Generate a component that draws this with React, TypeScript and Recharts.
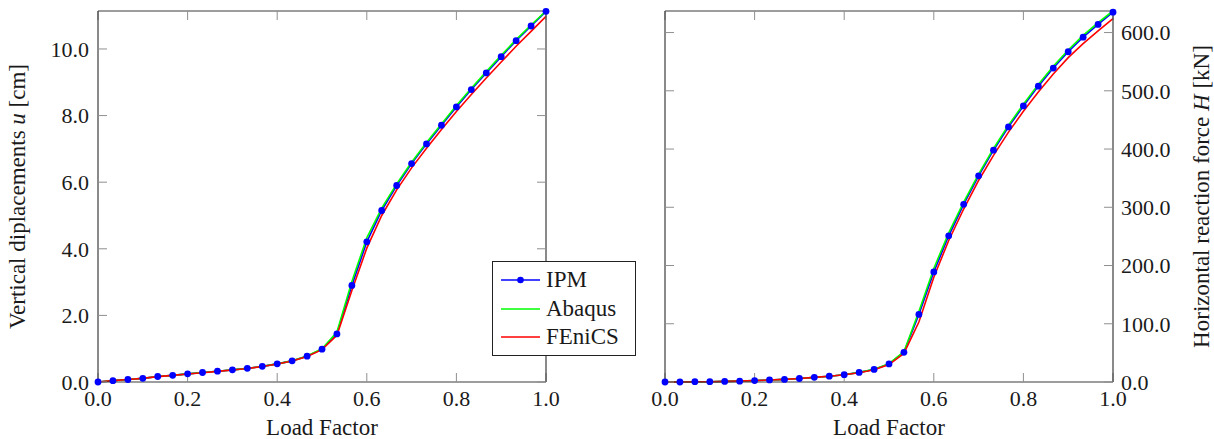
import React from 'react';
import { LineChart, Line, XAxis, YAxis, Legend } from 'recharts';

// ---------- data ----------
const loadFactor = [
  0, 0.0333, 0.0667, 0.1, 0.1333, 0.1667, 0.2, 0.2333, 0.2667, 0.3, 0.3333,
  0.3667, 0.4, 0.4333, 0.4667, 0.5, 0.5333, 0.5667, 0.6, 0.6333, 0.6667,
  0.7, 0.7333, 0.7667, 0.8, 0.8333, 0.8667, 0.9, 0.9333, 0.9667, 1.0,
];

// Vertical displacement u [cm]
const ipmDisp = [
  0, 0.04, 0.075, 0.11, 0.165, 0.2, 0.245, 0.285, 0.325, 0.365, 0.41,
  0.47, 0.545, 0.635, 0.775, 0.985, 1.445, 2.9, 4.21, 5.15, 5.9,
  6.56, 7.15, 7.71, 8.26, 8.78, 9.28, 9.77, 10.25, 10.69, 11.13,
];
const abaqusDisp = [
  0, 0.04, 0.075, 0.11, 0.165, 0.2, 0.245, 0.285, 0.325, 0.365, 0.41,
  0.47, 0.545, 0.635, 0.78, 1.0, 1.5, 3.02, 4.33, 5.22, 5.95,
  6.6, 7.19, 7.75, 8.3, 8.82, 9.32, 9.81, 10.28, 10.72, 11.14,
];
const fenicsDisp = [
  0, 0.04, 0.075, 0.11, 0.16, 0.2, 0.24, 0.28, 0.32, 0.36, 0.405,
  0.465, 0.54, 0.63, 0.765, 0.97, 1.4, 2.75, 4.02, 5.0, 5.77,
  6.43, 7.02, 7.58, 8.12, 8.63, 9.13, 9.61, 10.08, 10.53, 10.98,
];

// Horizontal reaction force H [kN]
const ipmForce = [
  0, 0, 0.5, 0.5, 1, 1.5, 2.5, 3.5, 4.5, 6, 8,
  10, 12.5, 16.5, 21.6, 31, 51, 116, 189, 251, 305,
  354, 398, 438, 474, 508, 539, 567, 592, 614, 635,
];
const abaqusForce = [
  0, 0, 0.5, 0.5, 1, 1.5, 2.5, 3.5, 4.5, 6, 8,
  10, 12.5, 16.5, 22, 31.5, 52, 121, 195, 256, 309,
  357, 401, 441, 477, 511, 542, 570, 595, 617, 637,
];
const fenicsForce = [
  0, 0, 0.5, 0.5, 1, 1.5, 2.5, 3.5, 4.5, 6, 8,
  10, 12.5, 16, 21, 30, 49, 103, 180, 243, 297,
  346, 389, 429, 465, 498, 529, 557, 581, 603, 624,
];

const xTicks = [0, 0.2, 0.4, 0.6, 0.8, 1.0];
const dispTicks = [0, 2, 4, 6, 8, 10];
const forceTicks = [0, 100, 200, 300, 400, 500, 600];
const dispMax = 11.14;
const forceMax = 637;

const seriesInfo = [
  { key: 'ipm', name: 'IPM', color: '#0000ff', marker: true },
  { key: 'abaqus', name: 'Abaqus', color: '#00ff00', marker: false },
  { key: 'fenics', name: 'FEniCS', color: '#ff0000', marker: false },
];

const dispData = loadFactor.map((x, i) => ({
  x,
  ipm: ipmDisp[i],
  abaqus: abaqusDisp[i],
  fenics: fenicsDisp[i],
}));
const forceData = loadFactor.map((x, i) => ({
  x,
  ipm: ipmForce[i],
  abaqus: abaqusForce[i],
  fenics: fenicsForce[i],
}));

// ---------- style ----------
const FONT = "'Liberation Serif', 'DejaVu Serif', 'Noto Serif', serif";
const TEXT = '#1a1a1a';
const AXIS = '#3c3c3c';
const TICKC = '#8f8f8f';
const tickStyle = { fontFamily: FONT, fontSize: 22, fill: TEXT };
const fmt1 = (v: number) => v.toFixed(1);
const blank = () => '';

const W = 607;
const H = 439;

function XTitle(props: any) {
  const vb = props.viewBox || {};
  const cx = vb.x + vb.width / 2;
  const y = vb.y + 53;
  return (
    <text x={cx} y={y} textAnchor="middle" fontFamily={FONT} fontSize={23} fill={TEXT}>
      Load Factor
    </text>
  );
}

function LeftTitle(props: any) {
  const vb = props.viewBox || {};
  const cx = vb.x + 25;
  const cy = vb.y + vb.height / 2;
  return (
    <text
      x={cx}
      y={cy}
      transform={`rotate(-90 ${cx} ${cy})`}
      textAnchor="middle"
      fontFamily={FONT}
      fontSize={23}
      fill={TEXT}
    >
      Vertical diplacements{' '}
      <tspan fontStyle="italic">u</tspan>
      {' '}[cm]
    </text>
  );
}

function RightTitle(props: any) {
  const vb = props.viewBox || {};
  const cx = vb.x + 96;
  const cy = vb.y + vb.height / 2;
  return (
    <text
      x={cx}
      y={cy}
      transform={`rotate(-90 ${cx} ${cy})`}
      textAnchor="middle"
      fontFamily={FONT}
      fontSize={23}
      fill={TEXT}
    >
      Horizontal reaction force{' '}
      <tspan fontStyle="italic">H</tspan>
      {' '}[kN]
    </text>
  );
}

function LegendBox() {
  return (
    <div
      style={{
        boxSizing: 'border-box',
        width: 144,
        height: 95,
        border: '1px solid #222',
        background: '#fff',
        paddingTop: 4,
        paddingLeft: 8,
        fontFamily: FONT,
        fontSize: 23,
        color: TEXT,
      }}
    >
      {seriesInfo.map((s) => (
        <div
          key={s.key}
          style={{ height: 28.5, display: 'flex', alignItems: 'center', lineHeight: '28.5px' }}
        >
          <svg width={39} height={10} style={{ display: 'block' }}>
            <line x1={0} y1={5} x2={39} y2={5} stroke={s.color} strokeWidth={1.6} />
            {s.marker ? <circle cx={19.5} cy={5} r={3.3} fill={s.color} /> : null}
          </svg>
          <span style={{ marginLeft: 6 }}>{s.name}</span>
        </div>
      ))}
    </div>
  );
}

function renderSeries(yAxisId: string | number, auxY: string) {
  return [
    // invisible helper so the box's top / opposite axes are active
    <Line
      key="aux"
      xAxisId="top"
      yAxisId={auxY}
      type="linear"
      dataKey="ipm"
      stroke="none"
      dot={false}
      activeDot={false}
      isAnimationActive={false}
      legendType="none"
    />,
    <Line
      key="ipm-line"
      yAxisId={yAxisId}
      type="linear"
      dataKey="ipm"
      name="IPM"
      stroke="#0000ff"
      strokeWidth={1.6}
      dot={false}
      activeDot={false}
      isAnimationActive={false}
      legendType="none"
    />,
    <Line
      key="abaqus"
      yAxisId={yAxisId}
      type="linear"
      dataKey="abaqus"
      name="Abaqus"
      stroke="#00ff00"
      strokeWidth={1.6}
      dot={false}
      activeDot={false}
      isAnimationActive={false}
    />,
    <Line
      key="fenics"
      yAxisId={yAxisId}
      type="linear"
      dataKey="fenics"
      name="FEniCS"
      stroke="#ff0000"
      strokeWidth={1.6}
      dot={false}
      activeDot={false}
      isAnimationActive={false}
    />,
    <Line
      key="ipm-dots"
      yAxisId={yAxisId}
      type="linear"
      dataKey="ipm"
      name="IPM"
      stroke="none"
      dot={{ r: 3.4, fill: '#0000ff', stroke: 'none' }}
      activeDot={false}
      isAnimationActive={false}
    />,
  ];
}

function xAxes() {
  return [
    <XAxis
      key="xb"
      xAxisId={0}
      dataKey="x"
      type="number"
      domain={[0, 1]}
      ticks={xTicks}
      interval={0}
      tickFormatter={fmt1}
      height={57}
      tickSize={-9}
      tickMargin={17}
      axisLine={{ stroke: AXIS, strokeWidth: 1.2 }}
      tickLine={{ stroke: TICKC }}
      tick={tickStyle}
      label={<XTitle />}
    />,
    <XAxis
      key="xt"
      xAxisId="top"
      orientation="top"
      dataKey="x"
      type="number"
      domain={[0, 1]}
      ticks={xTicks}
      interval={0}
      tickFormatter={blank}
      height={1}
      tickSize={-9}
      tickMargin={0}
      axisLine={{ stroke: AXIS, strokeWidth: 1.2 }}
      tickLine={{ stroke: TICKC }}
      tick={tickStyle}
    />,
  ];
}

export default function App() {
  return (
    <div style={{ position: 'absolute', left: 0, top: 0, width: 1214, height: 439, background: '#fff' }}>
      <div style={{ position: 'absolute', left: 0, top: 0 }}>
        <LineChart
          width={W}
          height={H}
          data={dispData}
          margin={{ top: 10, right: 60, bottom: 0, left: 0 }}
        >
          {xAxes()}
          <YAxis
            yAxisId={0}
            type="number"
            domain={[0, dispMax]}
            ticks={dispTicks}
            interval={0}
            tickFormatter={fmt1}
            width={98}
            tickSize={-9}
            tickMargin={18}
            axisLine={{ stroke: AXIS, strokeWidth: 1.2 }}
            tickLine={{ stroke: TICKC }}
            tick={tickStyle}
            label={<LeftTitle />}
          />
          <YAxis
            yAxisId="r"
            orientation="right"
            type="number"
            domain={[0, dispMax]}
            ticks={dispTicks}
            interval={0}
            tickFormatter={blank}
            width={1}
            tickSize={-9}
            tickMargin={0}
            axisLine={{ stroke: AXIS, strokeWidth: 1.2 }}
            tickLine={{ stroke: TICKC }}
            tick={tickStyle}
          />
          {renderSeries(0, 'r')}
          <Legend
            layout="horizontal"
            verticalAlign="middle"
            align="center"
            content={<LegendBox />}
            wrapperStyle={{ position: 'absolute', left: 492, top: 261, width: 144, height: 95 }}
          />
        </LineChart>
      </div>
      <div style={{ position: 'absolute', left: 607, top: 0 }}>
        <LineChart
          width={W}
          height={H}
          data={forceData}
          margin={{ top: 10, right: 0, bottom: 0, left: 0 }}
        >
          {xAxes()}
          <YAxis
            yAxisId="l"
            orientation="left"
            type="number"
            domain={[0, forceMax]}
            ticks={forceTicks}
            interval={0}
            tickFormatter={blank}
            width={58}
            tickSize={-9}
            tickMargin={0}
            axisLine={{ stroke: AXIS, strokeWidth: 1.2 }}
            tickLine={{ stroke: TICKC }}
            tick={tickStyle}
          />
          <YAxis
            yAxisId="main"
            orientation="right"
            type="number"
            domain={[0, forceMax]}
            ticks={forceTicks}
            interval={0}
            tickFormatter={fmt1}
            width={101}
            tickSize={-9}
            tickMargin={17}
            axisLine={{ stroke: AXIS, strokeWidth: 1.2 }}
            tickLine={{ stroke: TICKC }}
            tick={tickStyle}
            label={<RightTitle />}
          />
          {renderSeries('main', 'l')}
        </LineChart>
      </div>
    </div>
  );
}
